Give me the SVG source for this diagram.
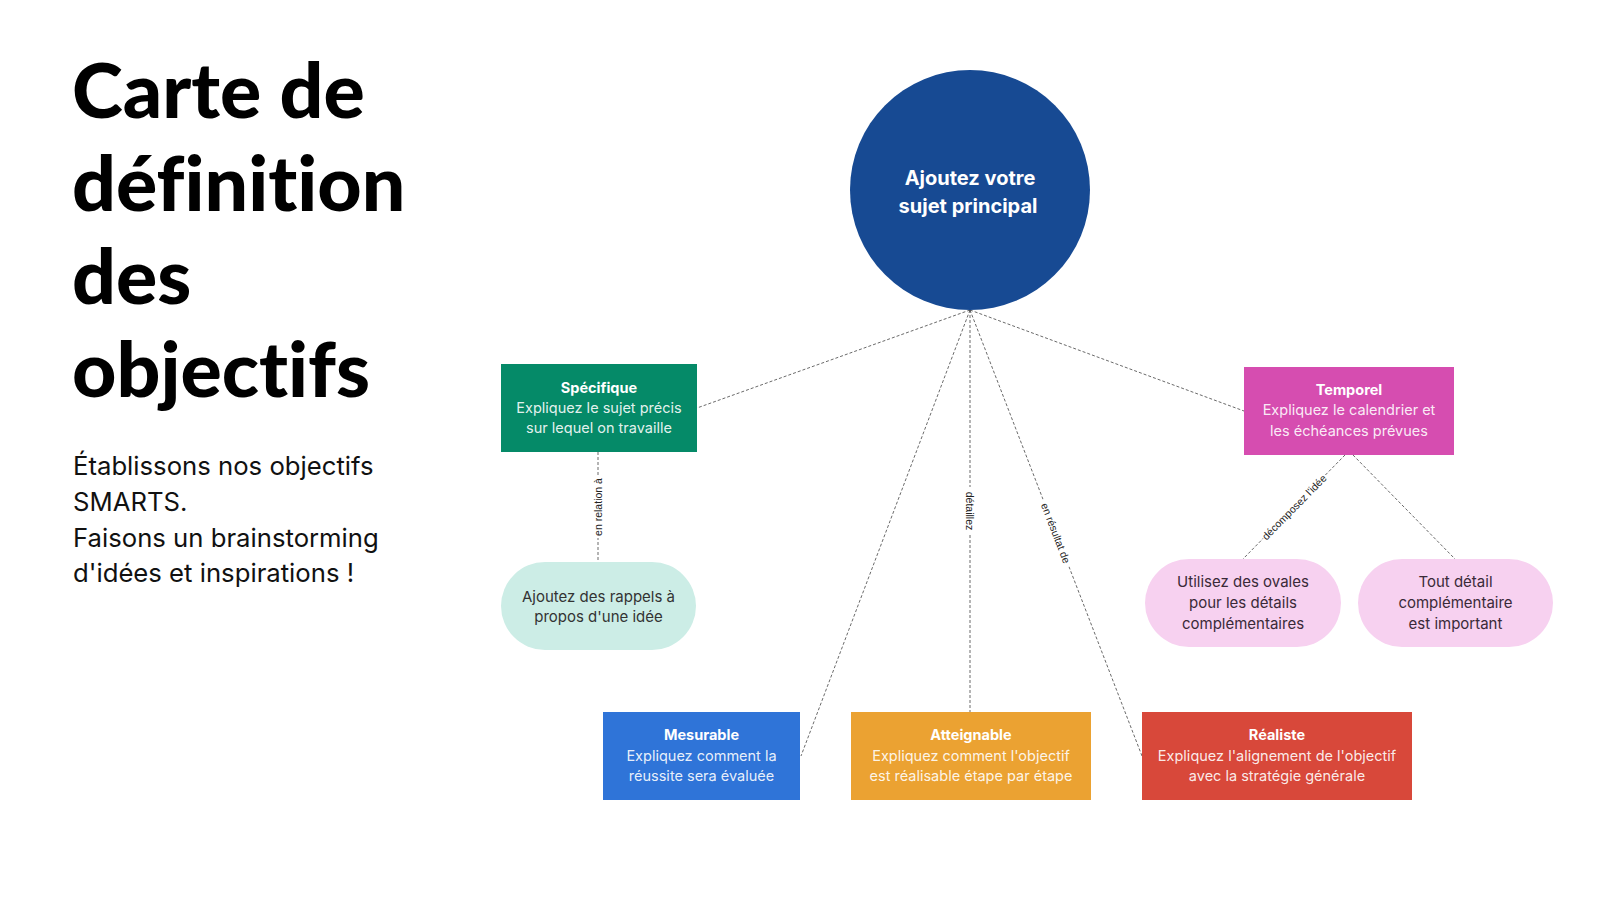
<svg xmlns="http://www.w3.org/2000/svg" width="1600" height="900" viewBox="0 0 1600 900">
<style>
.title{font-family:Lato,"Open Sans",sans-serif;font-weight:900;font-size:77px;fill:#000;font-variant-ligatures:none;font-feature-settings:"liga" 0}
.sub{font-family:Inter,"Noto Sans",sans-serif;font-size:25.7px;fill:#111}
.bt{font-family:Inter,"Noto Sans",sans-serif;font-size:14.5px;font-weight:700;fill:#fff;text-anchor:middle}
.bb{font-family:Inter,"Noto Sans",sans-serif;font-size:14.5px;fill:#fff;fill-opacity:0.9;text-anchor:middle}
.ov{font-family:Inter,"Noto Sans",sans-serif;font-size:15px;text-anchor:middle}
.ct{font-family:Inter,"Noto Sans",sans-serif;font-size:20px;font-weight:700;fill:#fff;text-anchor:middle}
.ln{stroke:#444;stroke-width:0.8;stroke-dasharray:3 2;fill:none}
.lb{font-family:"Liberation Sans",Arial,sans-serif;font-size:10.5px;fill:#222;text-anchor:middle;dominant-baseline:central}
.lbg{fill:#fff}
</style>
<rect width="1600" height="900" fill="#fff"/>
<g id="title">
<text class="title" x="72" y="118">Carte de</text>
<text class="title" x="72" y="211">définition</text>
<text class="title" x="72" y="304">des</text>
<text class="title" x="72" y="397">objectifs</text>
</g>
<g id="subtitle">
<text class="sub" x="73" y="475">Établissons nos objectifs</text>
<text class="sub" x="73" y="511">SMARTS.</text>
<text class="sub" x="73" y="547">Faisons un brainstorming</text>
<text class="sub" x="73" y="582">d'idées et inspirations !</text>
</g>
<g id="connectors">
<line class="ln" x1="970" y1="310" x2="697" y2="408"/>
<line class="ln" x1="970" y1="310" x2="1244" y2="411"/>
<line class="ln" x1="970" y1="310" x2="801" y2="756"/>
<line class="ln" x1="970" y1="310" x2="970" y2="712"/>
<line class="ln" x1="970" y1="310" x2="1142" y2="756"/>
<line class="ln" x1="598" y1="452" x2="598" y2="562"/>
<line class="ln" x1="1345" y1="455" x2="1243" y2="559"/>
<line class="ln" x1="1353" y1="455" x2="1455" y2="559"/>
<g transform="translate(598,507) rotate(-90)"><rect class="lbg" x="-31" y="-6" width="62" height="12"/><text class="lb" x="0" y="0">en relation à</text></g>
<g transform="translate(970,511) rotate(90)"><rect class="lbg" x="-24" y="-6" width="48" height="12"/><text class="lb" x="0" y="0">détaillez</text></g>
<g transform="translate(1056,533) rotate(68.9)"><rect class="lbg" x="-36" y="-6" width="72" height="12"/><text class="lb" x="0" y="0">en résultat de</text></g>
<g transform="translate(1294,507) rotate(-45.5)"><rect class="lbg" x="-44" y="-6" width="88" height="12"/><text class="lb" x="0" y="0">décomposez l'idée</text></g>
</g>
<g id="center">
<circle cx="970" cy="190" r="120" fill="#174A93"/>
<text class="ct" x="970" y="185">Ajoutez votre</text>
<text class="ct" x="968" y="213">sujet principal</text>
</g>
<g id="specifique">
<rect x="501" y="364" width="196" height="88" fill="#058A68"/>
<text class="bt" x="599" y="393">Spécifique</text>
<text class="bb" x="599" y="413">Expliquez le sujet précis</text>
<text class="bb" x="599" y="433">sur lequel on travaille</text>
</g>
<g id="rappel">
<rect x="501" y="562" width="195" height="88" rx="44" fill="#CCEDE6"/>
<text class="ov" x="598.5" y="602" fill="#333">Ajoutez des rappels à</text>
<text class="ov" x="598.5" y="622" fill="#333">propos d'une idée</text>
</g>
<g id="temporel">
<rect x="1244" y="367" width="210" height="88" fill="#D64DB0"/>
<text class="bt" x="1349" y="395">Temporel</text>
<text class="bb" x="1349" y="415">Expliquez le calendrier et</text>
<text class="bb" x="1349" y="436">les échéances prévues</text>
</g>
<g id="ovale1">
<rect x="1145" y="559" width="196" height="88" rx="44" fill="#F7D1F0"/>
<text class="ov" x="1243" y="587" fill="#3a2a38">Utilisez des ovales</text>
<text class="ov" x="1243" y="608" fill="#3a2a38">pour les détails</text>
<text class="ov" x="1243" y="629" fill="#3a2a38">complémentaires</text>
</g>
<g id="ovale2">
<rect x="1358" y="559" width="195" height="88" rx="44" fill="#F7D1F0"/>
<text class="ov" x="1455.5" y="587" fill="#3a2a38">Tout détail</text>
<text class="ov" x="1455.5" y="608" fill="#3a2a38">complémentaire</text>
<text class="ov" x="1455.5" y="629" fill="#3a2a38">est important</text>
</g>
<g id="mesurable">
<rect x="603" y="712" width="197" height="88" fill="#2F74D8"/>
<text class="bt" x="701.5" y="740">Mesurable</text>
<text class="bb" x="701.5" y="761">Expliquez comment la</text>
<text class="bb" x="701.5" y="781">réussite sera évaluée</text>
</g>
<g id="atteignable">
<rect x="851" y="712" width="240" height="88" fill="#EBA232"/>
<text class="bt" x="971" y="740">Atteignable</text>
<text class="bb" x="971" y="761">Expliquez comment l'objectif</text>
<text class="bb" x="971" y="781">est réalisable étape par étape</text>
</g>
<g id="realiste">
<rect x="1142" y="712" width="270" height="88" fill="#D8483A"/>
<text class="bt" x="1277" y="740">Réaliste</text>
<text class="bb" x="1277" y="761">Expliquez l'alignement de l'objectif</text>
<text class="bb" x="1277" y="781">avec la stratégie générale</text>
</g>
</svg>
